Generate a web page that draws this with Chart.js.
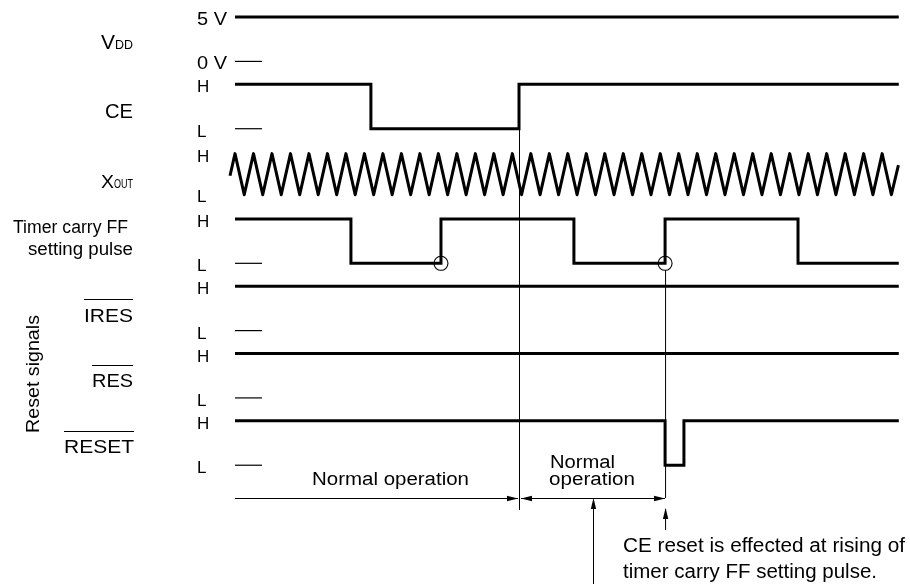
<!DOCTYPE html>
<html><head><meta charset="utf-8">
<script src="https://cdn.jsdelivr.net/npm/chart.js@4.4.1/dist/chart.umd.min.js"></script>
<style>html,body{margin:0;padding:0;background:#fff;overflow:hidden}canvas{display:block}</style>
</head><body>
<canvas id="c" width="910" height="584"></canvas>
<script>
// ---------- DATA (time in XOUT clock cycles; level 1 = H, 0 = L) ----------
const signalRows = ['VDD', 'CE', 'XOUT', 'Timer carry FF setting pulse', 'IRES', 'RES', 'RESET'];

const vddTimes   = [0, 35.9];
const vddLevels  = [1, 1];

const ceTimes    = [0, 7.35, 15.36, 35.9];
const ceLevels   = [1, 0, 1, 1];

const xoutPeakTimes   = [0, 1, 2, 3, 4, 5, 6, 7, 8, 9, 10, 11, 12, 13, 14, 15, 16, 17,
                         18, 19, 20, 21, 22, 23, 24, 25, 26, 27, 28, 29, 30, 31, 32, 33, 34, 35];
const xoutTroughTimes = [0.5, 1.5, 2.5, 3.5, 4.5, 5.5, 6.5, 7.5, 8.5, 9.5, 10.5, 11.5, 12.5,
                         13.5, 14.5, 15.5, 16.5, 17.5, 18.5, 19.5, 20.5, 21.5, 22.5, 23.5,
                         24.5, 25.5, 26.5, 27.5, 28.5, 29.5, 30.5, 31.5, 32.5, 33.5, 34.5, 35.5];
const xoutStart = [-0.27, 0.46];   // [time, level]
const xoutEnd   = [35.88, 0.72];

const timerTimes  = [0, 6.27, 11.14, 18.33, 23.26, 30.45, 35.9];
const timerLevels = [1, 0, 1, 0, 1, 0, 0];

const iresTimes  = [0, 35.9];
const iresLevels = [1, 1];

const resTimes   = [0, 35.9];
const resLevels  = [1, 1];

const resetTimes  = [0, 23.26, 24.28, 35.9];
const resetLevels = [1, 0, 1, 1];

const markedEdgeTimes = [11.14, 23.26];   // circled rising edges of timer pulse
const lowRefTimes     = [0, 1.46];        // short reference marks at L / 0 V
const lowRefRows      = [0, 1, 3, 4, 5, 6];

const levelTickLabels = ['H', 'L'];
const vddTickLabels   = ['5 V', '0 V'];

// ---------- layout helpers ----------
const ROW_SWING = 0.66;
function yv(row, level) { return row + (1 - level) * ROW_SWING; }
function yx(level) { return 2.03 + (1 - level) * 0.61; } // XOUT row
function stepSeries(row, times, levels) {
  return times.map((t, i) => ({ x: t, y: yv(row, levels[i]) }));
}
function xoutSeries() {
  const pts = [{ x: xoutStart[0], y: yx(xoutStart[1]) }];
  xoutPeakTimes.forEach(t => pts.push({ x: t, y: yx(1) }));
  xoutTroughTimes.forEach(t => pts.push({ x: t, y: yx(0) }));
  pts.push({ x: xoutEnd[0], y: yx(xoutEnd[1]) });
  pts.sort((a, b) => a.x - b.x);
  return pts;
}

const thick = { borderColor: '#000', borderWidth: 3, pointRadius: 0, fill: false,
  borderJoinStyle: 'miter', borderCapStyle: 'butt', clip: false, tension: 0 };

const datasets = [];
datasets.push({ label: 'marks', data: markedEdgeTimes.map(t => ({ x: t, y: yv(3, 0) })),
  showLine: false, pointRadius: 7, pointHoverRadius: 7, pointBorderWidth: 1.1,
  pointBorderColor: '#000', pointBackgroundColor: 'rgba(0,0,0,0)', clip: false });
datasets.push({ ...thick, label: signalRows[0], data: stepSeries(0, vddTimes, vddLevels), stepped: true });
datasets.push({ ...thick, label: signalRows[1], data: stepSeries(1, ceTimes, ceLevels), stepped: true });
datasets.push({ ...thick, label: signalRows[2], data: xoutSeries(), borderJoinStyle: 'round' });
datasets.push({ ...thick, label: signalRows[3], data: stepSeries(3, timerTimes, timerLevels), stepped: true });
datasets.push({ ...thick, label: signalRows[4], data: stepSeries(4, iresTimes, iresLevels), stepped: true });
datasets.push({ ...thick, label: signalRows[5], data: stepSeries(5, resTimes, resLevels), stepped: true });
datasets.push({ ...thick, label: signalRows[6], data: stepSeries(6, resetTimes, resetLevels), stepped: true });
lowRefRows.forEach(r => datasets.push({ ...thick, borderWidth: 1.2, label: 'ref' + r,
  data: lowRefTimes.map(t => ({ x: t, y: yv(r, 0) })) }));

// ---------- text / annotation plugin ----------
const FONT = '"Liberation Sans", Arial, Helvetica, sans-serif';
function txt(ctx, s, x, y, size, align, width) {
  ctx.save();
  ctx.font = size + 'px ' + FONT;
  ctx.textBaseline = 'alphabetic';
  ctx.textAlign = 'left';
  const w = ctx.measureText(s).width;
  const sx = width ? width / w : 1;
  const x0 = align === 'right' ? x - w * sx : align === 'center' ? x - w * sx / 2 : x;
  ctx.translate(x0, y); ctx.scale(sx, 1);
  ctx.fillStyle = '#000';
  ctx.fillText(s, 0, 0);
  ctx.restore();
}
function line(ctx, x1, y1, x2, y2, w) {
  ctx.save(); ctx.strokeStyle = '#000'; ctx.lineWidth = w || 1;
  ctx.beginPath(); ctx.moveTo(x1, y1); ctx.lineTo(x2, y2); ctx.stroke(); ctx.restore();
}
function head(ctx, x, y, dir) {
  const L = 11, W = 2.7;
  ctx.save(); ctx.fillStyle = '#000'; ctx.beginPath();
  if (dir === 'right') { ctx.moveTo(x, y); ctx.lineTo(x - L, y - W); ctx.lineTo(x - L, y + W); }
  if (dir === 'left')  { ctx.moveTo(x, y); ctx.lineTo(x + L, y - W); ctx.lineTo(x + L, y + W); }
  if (dir === 'up')    { ctx.moveTo(x, y); ctx.lineTo(x - W, y + L); ctx.lineTo(x + W, y + L); }
  ctx.closePath(); ctx.fill(); ctx.restore();
}

const annotations = {
  id: 'annotations',
  beforeDraw(chart) {
    const c = chart.ctx; c.save(); c.fillStyle = '#fff'; c.fillRect(0, 0, chart.width, chart.height); c.restore();
  },
  afterDatasetsDraw(chart) {
    const ctx = chart.ctx, X = chart.scales.x, Y = chart.scales.y;
    const px = t => X.getPixelForValue(t), py = v => Y.getPixelForValue(v);

    // left signal names
    txt(ctx, 'V', 101, 49, 19.5, 'left', 14);
    txt(ctx, 'DD', 115, 49, 13, 'left', 18);
    txt(ctx, 'CE', 133, 118, 20, 'right', 28);
    txt(ctx, 'X', 101, 188, 18, 'left', 13);
    txt(ctx, 'OUT', 114, 188, 13, 'left', 19);
    txt(ctx, 'Timer carry FF', 128, 233, 18, 'right', 115);
    txt(ctx, 'setting pulse', 133, 255, 18, 'right', 105);
    txt(ctx, 'IRES', 133, 322, 19, 'right', 49);
    line(ctx, 84, 299.5, 133, 299.5, 1.2);
    txt(ctx, 'RES', 133, 387, 19, 'right', 41);
    line(ctx, 92, 365.5, 133, 365.5, 1.2);
    txt(ctx, 'RESET', 134, 453, 19, 'right', 70);
    line(ctx, 64, 431.5, 134, 431.5, 1.2);
    ctx.save(); ctx.translate(39, 374); ctx.rotate(-Math.PI / 2);
    txt(ctx, 'Reset signals', 0, 0, 19, 'center', 118); ctx.restore();

    // level labels
    txt(ctx, vddTickLabels[0], 197, py(yv(0, 1)) + 8, 18, 'left', 30);
    txt(ctx, vddTickLabels[1], 197, py(yv(0, 0)) + 8, 18, 'left', 30);
    [1, 3, 4, 5, 6].forEach(r => {
      txt(ctx, levelTickLabels[0], 197, py(yv(r, 1)) + 8, 17, 'left');
      txt(ctx, levelTickLabels[1], 197, py(yv(r, 0)) + 8, 17, 'left');
    });
    txt(ctx, levelTickLabels[0], 197, py(yx(1)) + 8.5, 17, 'left');
    txt(ctx, levelTickLabels[1], 197, py(yx(0)) + 7.5, 17, 'left');

    // vertical reference lines
    const xCE = px(ceTimes[2]), xTR = px(markedEdgeTimes[1]);
    const yDim = 498;
    line(ctx, xCE + 0.5, py(yv(1, 1)), xCE + 0.5, 510, 1);
    line(ctx, xTR + 0.5, py(yv(3, 0)) + 7, xTR + 0.5, yDim, 1);
    line(ctx, xTR + 0.5, 509, xTR + 0.5, 530, 1);
    head(ctx, xTR + 0.5, 508, 'up');

    // dimension lines
    const x0 = px(0);
    line(ctx, x0, yDim + 0.5, xCE - 1, yDim + 0.5, 1);
    head(ctx, xCE - 1, yDim + 0.5, 'right');
    line(ctx, xCE + 2, yDim + 0.5, xTR, yDim + 0.5, 1);
    head(ctx, xCE + 2, yDim + 0.5, 'left');
    head(ctx, xTR, yDim + 0.5, 'right');

    // pointer arrow to second normal operation
    line(ctx, 593.5, 509, 593.5, 584, 1);
    head(ctx, 593.5, yDim, 'up');

    // annotations text
    txt(ctx, 'Normal operation', 312, 485, 18, 'left', 157);
    txt(ctx, 'Normal', 550, 468, 18, 'left', 65);
    txt(ctx, 'operation', 549, 485, 18, 'left', 86);
    txt(ctx, 'CE reset is effected at rising of', 623, 552, 19.5, 'left', 282);
    txt(ctx, 'timer carry FF setting pulse.', 623, 578, 19.5, 'left', 254);
  }
};

new Chart(document.getElementById('c'), {
  type: 'line',
  data: { datasets },
  options: {
    responsive: false, animation: false, devicePixelRatio: 1,
    parsing: true,
    layout: { padding: 0, autoPadding: false },
    plugins: { legend: { display: false }, tooltip: { enabled: false }, title: { display: false } },
    events: [],
    scales: {
      x: { type: 'linear', display: false, min: -235 / 18.49, max: (910 - 235) / 18.49 },
      y: { type: 'linear', display: false, reverse: true, min: -17 / 67.3, max: (584 - 17) / 67.3 }
    }
  },
  plugins: [annotations]
});
</script>
</body></html>
